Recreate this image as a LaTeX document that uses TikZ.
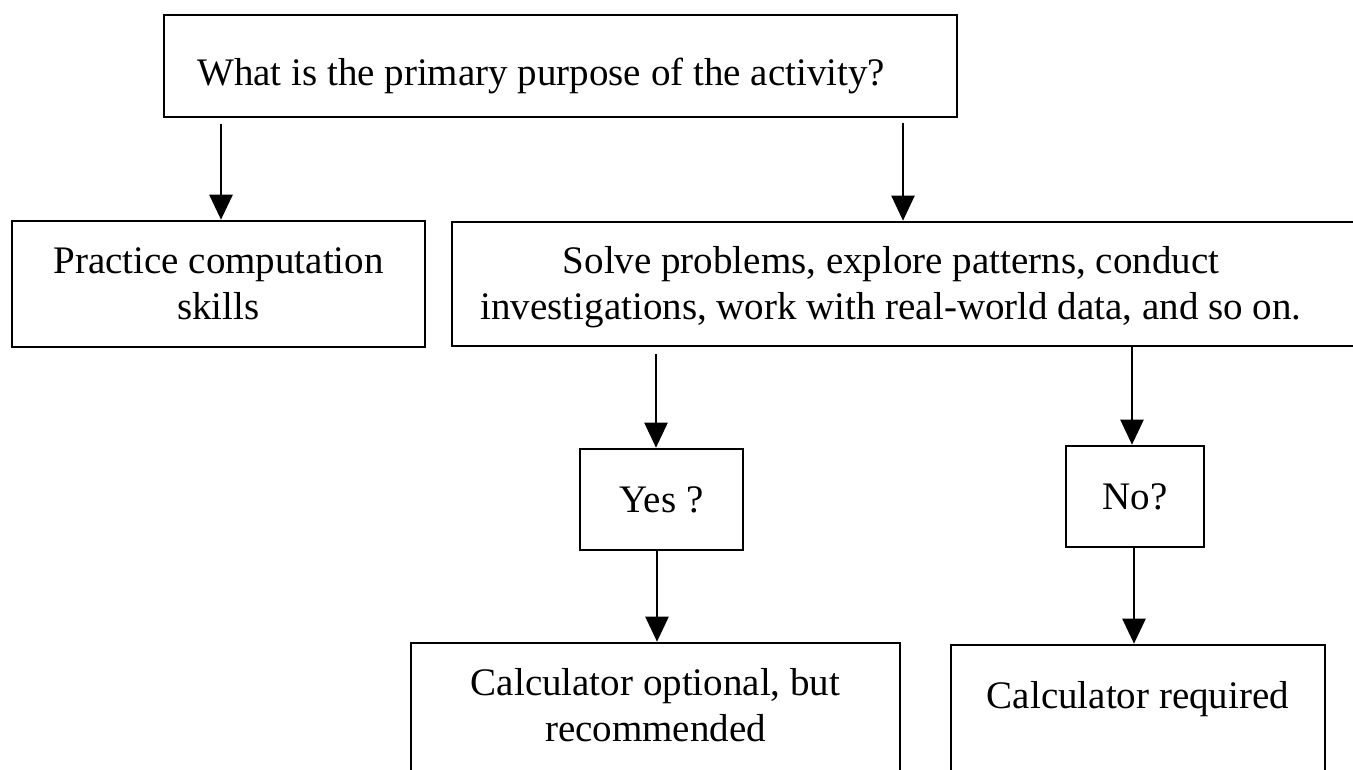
\documentclass[tikz,border=0pt]{standalone}
\usepackage{fontspec}
\setmainfont{Liberation Serif}
\usetikzlibrary{arrows.meta}
\begin{document}
\begin{tikzpicture}[x=1pt,y=-1pt,
  box/.style={draw, line width=2.6pt, inner sep=0pt},
  txt/.style={font=\fontsize{39}{46}\selectfont, align=center, inner sep=0pt},
  arr/.style={line width=2.4pt, -{Triangle[width=23pt,length=25pt]}}]
\useasboundingbox (0,0) rectangle (1353,769);
\fill[white] (0,0) rectangle (1353,769);
% boxes
\node[box, minimum width=793, minimum height=102] (top) at (560.5,66) {};
\node[txt, anchor=base west] (toptxt) at (197,85) {What is the primary purpose of the activity?};
\node[box, txt, minimum width=413, minimum height=126] (practice) at (218.5,284) {Practice computation\\skills};
\node[box, minimum width=948, minimum height=124] (solve) at (926,284) {};
\node[txt] (solvetxt) at (891,287) {Solve problems, explore patterns, conduct\\investigations, work with real-world data, and so on.};
\node[box, txt, minimum width=163, minimum height=101] (yes) at (661.5,499.5) {Yes ?};
\node[box, txt, minimum width=138, minimum height=101] (no) at (1135,496.5) {No?};
\node[box, minimum width=489, minimum height=157] (opt) at (655.5,721.5) {};
\node[txt, anchor=north] (opttxt) at (655.5,668) {Calculator optional, but\\recommended};
\node[box, minimum width=374, minimum height=155] (req) at (1138,722.5) {};
\node[txt, anchor=base] (reqtxt) at (1138,708) {Calculator required};
% connectors
\draw[arr, line width=2.8pt, shorten <=6pt] (top.south -| 221,0) -- (practice.north -| 221,0);
\draw[arr, line width=2pt, shorten <=5pt] (top.south -| 903,0) -- (solve.north -| 903,0);
\draw[arr, shorten <=7pt] (solve.south -| 656,0) -- (yes.north -| 656,0);
\draw[arr] (solve.south -| 1132,0) -- (no.north -| 1132,0);
\draw[arr] (yes.south -| 657,0) -- (opt.north -| 657,0);
\draw[arr] (no.south -| 1134,0) -- (req.north -| 1134,0);
\end{tikzpicture}
\end{document}
